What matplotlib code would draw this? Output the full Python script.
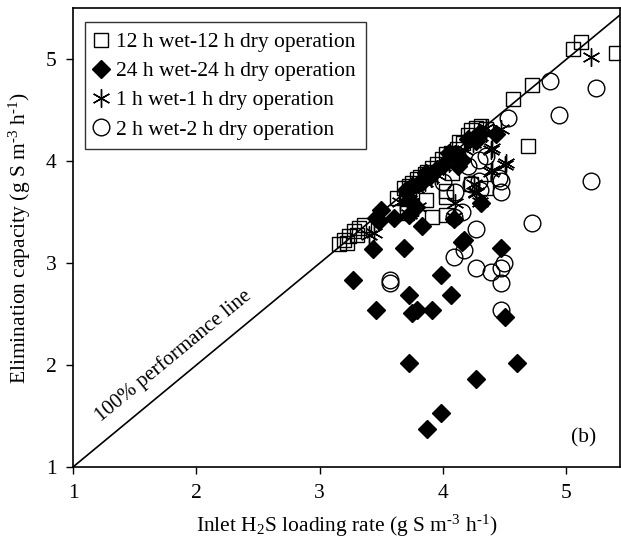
import numpy as np
import matplotlib
matplotlib.use("Agg")
import matplotlib.pyplot as plt

plt.rcParams['font.family'] = ['Liberation Serif', 'DejaVu Serif']
plt.rcParams['mathtext.fontset'] = 'custom'
plt.rcParams['mathtext.rm'] = 'Liberation Serif'
plt.rcParams['mathtext.it'] = 'Liberation Serif:italic'

# 12 h wet - 12 h dry (open squares)
sq_x = [3.16, 3.20, 3.24, 3.28, 3.32, 3.36, 3.22, 3.30,
        3.63, 3.68, 3.72, 3.75, 3.79, 3.81, 3.85, 3.87, 3.91, 3.95, 3.99, 4.02,
        4.06, 4.11, 4.13, 4.16, 4.20, 4.23, 4.27, 4.31, 4.35,
        3.71, 3.91, 4.02, 4.02, 4.02, 3.86, 4.23, 4.35, 3.70, 4.07,
        4.57, 4.72, 5.05, 5.12, 5.40, 4.69]
sq_y = [3.19, 3.23, 3.27, 3.31, 3.34, 3.37, 3.20, 3.28,
        3.64, 3.74, 3.76, 3.79, 3.82, 3.84, 3.87, 3.89, 3.93, 3.97, 4.02, 4.07,
        4.08, 4.12, 4.19, 4.18, 4.26, 4.31, 4.33, 4.34, 4.32,
        3.49, 3.45, 3.47, 3.65, 3.71, 3.62, 3.78, 3.74, 3.65, 3.88,
        4.61, 4.75, 5.10, 5.17, 5.06, 4.15]

# 24 h wet - 24 h dry (filled diamonds)
di_x = [3.46, 3.50, 3.70, 3.75, 3.80, 3.83, 3.86, 3.90, 3.95, 4.00, 4.05, 4.10,
        4.15, 4.20, 4.25, 4.28, 4.30, 4.27, 4.43, 3.72, 3.78, 4.12,
        3.48, 3.43, 3.68, 3.72, 3.83, 4.15, 4.17, 4.47, 4.31, 3.27, 3.98, 3.72,
        4.06, 3.46, 3.75, 3.79, 3.91, 4.50, 3.72, 4.27, 3.98, 3.87, 4.60, 4.09, 3.60]
di_y = [3.44, 3.52, 3.72, 3.76, 3.78, 3.80, 3.88, 3.86, 3.92, 3.96, 4.08, 4.07,
        4.01, 4.22, 4.23, 4.26, 4.28, 4.20, 4.27, 3.62, 3.55, 3.95,
        3.41, 3.14, 3.15, 3.47, 3.36, 3.21, 3.23, 3.15, 3.59, 2.83, 2.88, 2.69,
        2.69, 2.54, 2.51, 2.54, 2.54, 2.47, 2.02, 1.86, 1.53, 1.37, 2.02, 3.43, 3.44]

# 1 h wet - 1 h dry (asterisks)
st_x = [3.40, 3.44, 3.65, 3.72, 3.78, 3.85, 3.90, 3.95, 4.00, 4.05, 4.10, 4.18,
        4.24, 4.30, 4.35, 4.40, 4.47, 4.39, 4.50, 4.39, 4.27, 4.51, 4.40, 4.10,
        4.27, 4.09, 3.72, 3.80, 4.25, 5.20, 4.30, 4.35]
st_y = [3.28, 3.30, 3.60, 3.70, 3.74, 3.80, 3.83, 3.86, 3.95, 3.98, 4.04, 4.11,
        4.18, 4.25, 4.28, 4.13, 4.32, 4.11, 3.96, 3.89, 3.69, 3.98, 3.91, 3.59,
        3.70, 3.45, 3.48, 3.55, 3.78, 5.02, 3.60, 4.33]

# 2 h wet - 2 h dry (open circles)
ci_x = [3.57, 3.57, 4.27, 4.17, 4.09, 4.27, 4.39, 4.49, 4.47, 4.47, 4.47, 4.72,
        4.87, 5.24, 4.94, 4.53, 5.20, 4.47, 4.47, 4.09, 4.29, 4.45, 4.29, 4.23,
        4.10, 4.00, 4.20, 4.35, 4.15, 4.30]
ci_y = [2.83, 2.80, 3.33, 3.13, 3.06, 2.95, 2.91, 3.00, 2.95, 2.80, 2.54, 3.39,
        4.79, 4.72, 4.45, 4.42, 3.81, 3.81, 3.70, 3.45, 3.81, 3.83, 4.01, 3.78,
        3.70, 3.80, 3.95, 4.05, 3.50, 3.72]

fig = plt.figure(figsize=(6.21, 5.5), dpi=100)
ax = fig.add_axes([0.1176, 0.151, 0.880, 0.834])

xlim = (1, 5.43)
ylim = (1, 5.5)

ax.plot([1, 5.5], [1, 5.5], color='k', lw=1.2, zorder=1)

ax.plot(sq_x, sq_y, ls='none', marker='s', ms=10, mfc='none', mec='k', mew=1.0,
        label='12 h wet-12 h dry operation', zorder=3)
ax.plot(di_x, di_y, ls='none', marker='D', ms=9, mfc='k', mec='k', mew=1.0,
        label='24 h wet-24 h dry operation', zorder=4)
ax.plot(st_x, st_y, ls='none', marker=(6, 2, 0), ms=13, mec='k', mew=1.0,
        label='1 h wet-1 h dry operation', zorder=3)
ax.plot(ci_x, ci_y, ls='none', marker='o', ms=12, mfc='none', mec='k', mew=1.0,
        label='2 h wet-2 h dry operation', zorder=2)

ax.set_xlim(*xlim)
ax.set_ylim(*ylim)
ax.set_xticks([1, 2, 3, 4, 5])
ax.set_yticks([1, 2, 3, 4, 5])
ax.tick_params(direction='out', length=5, width=1, labelsize=15.5, pad=7)
for s in ax.spines.values():
    s.set_linewidth(1.2)

hy = '\u2010'
ax.set_xlabel('Inlet H$_2$S loading rate (g S m$^{' + hy + '3}$ h$^{' + hy + '1}$)',
              fontsize=15.5, labelpad=7)
ax.set_ylabel('Elimination capacity (g S m$^{' + hy + '3}$ h$^{' + hy + '1}$)',
              fontsize=15.5, labelpad=9)

ax.text(1.81, 2.09, '100% performance line', rotation=39.5, fontsize=15,
        ha='center', va='center', rotation_mode='anchor')
ax.text(5.14, 1.29, '(b)', fontsize=15.5, ha='center', va='center')

leg = ax.legend(loc='upper left', bbox_to_anchor=(0.022, 0.969), fontsize=15.5,
                frameon=True, fancybox=False, handlelength=0.6, handletextpad=0.4,
                borderpad=0.45, labelspacing=0.42, borderaxespad=0)
leg.get_frame().set_edgecolor('k')
leg.get_frame().set_linewidth(1.0)

fig.savefig('out.png', dpi=100)
